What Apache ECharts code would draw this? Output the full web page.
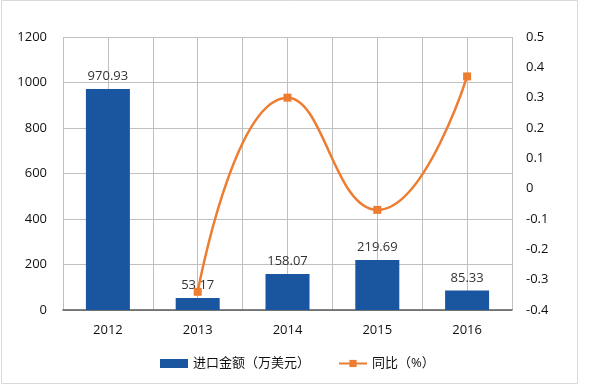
<!DOCTYPE html>
<html><head><meta charset="utf-8">
<script src="https://cdn.jsdelivr.net/npm/echarts@6/dist/echarts.min.js"></script>
<style>html,body{margin:0;padding:0;background:#fff}#c{width:600px;height:385px}</style>
</head><body><div id="c"></div>
<script>
const categories = ['2012','2013','2014','2015','2016'];
const importValues = [970.93, 53.17, 158.07, 219.69, 85.33];
const yoyValues = [null, -0.34, 0.30, -0.07, 0.37];
const seriesNames = ['进口金额（万美元）', '同比（%）'];

const FONT = '"Open Sans","Noto Sans CJK SC",sans-serif';
const chart = echarts.init(document.getElementById('c'));
chart.setOption({
  animation: false,
  textStyle: {fontFamily: FONT},
  graphic: [{type:'rect', shape:{x:1.5,y:0.5,width:576,height:383}, style:{fill:null, stroke:'#d9d9d9', lineWidth:1}, silent:true}],
  legend: {
    bottom: 10, left: 155, itemGap: 28, itemWidth: 28, itemHeight: 9,
    textStyle: {fontSize: 13, color: '#111', fontFamily: FONT},
    data: [
      {name: seriesNames[0], icon: 'rect'},
      {name: seriesNames[1]}
    ]
  },
  grid: {left: 63, right: 88, top: 37, bottom: 75},
  xAxis: [
    {type:'category', data: categories, boundaryGap: true,
     axisLine:{lineStyle:{color:'#595959', width:1.5}}, axisTick:{show:false},
     axisLabel:{fontSize:13, color:'#111', margin:14},
     splitLine:{show:false}},
    {type:'value', min:0, max:10, interval:1, position:'bottom',
     axisLine:{show:false}, axisTick:{show:false}, axisLabel:{show:false},
     splitLine:{show:true, lineStyle:{color:'#bfbfbf', width:1}}}
  ],
  yAxis: [
    {type:'value', min:0, max:1200, interval:200,
     axisLine:{show:false}, axisTick:{show:false},
     axisLabel:{fontSize:13, color:'#111', margin:16, formatter: v => String(v)},
     splitLine:{lineStyle:{color:'#bfbfbf'}}},
    {type:'value', min:-0.4, max:0.5, interval:0.1,
     axisLine:{show:false}, axisTick:{show:false},
     axisLabel:{fontSize:13, color:'#111', margin:14,
       formatter: v => String(Math.round(v*10)/10)},
     splitLine:{show:false}}
  ],
  series: [
    {name: seriesNames[0], type:'bar', data: importValues, xAxisIndex:0, yAxisIndex:0,
     barWidth:'49%', itemStyle:{color:'#1a55a0'},
     label:{show:true, position:'top', fontSize:13, color:'#333', distance:6}},
    {name: seriesNames[1], type:'line', data: yoyValues, xAxisIndex:0, yAxisIndex:1,
     smooth:true, symbol:'rect', symbolSize:8, connectNulls:false,
     lineStyle:{color:'#ed7d31', width:2.5}, itemStyle:{color:'#ed7d31'}, z:5}
  ]
});
</script></body></html>
